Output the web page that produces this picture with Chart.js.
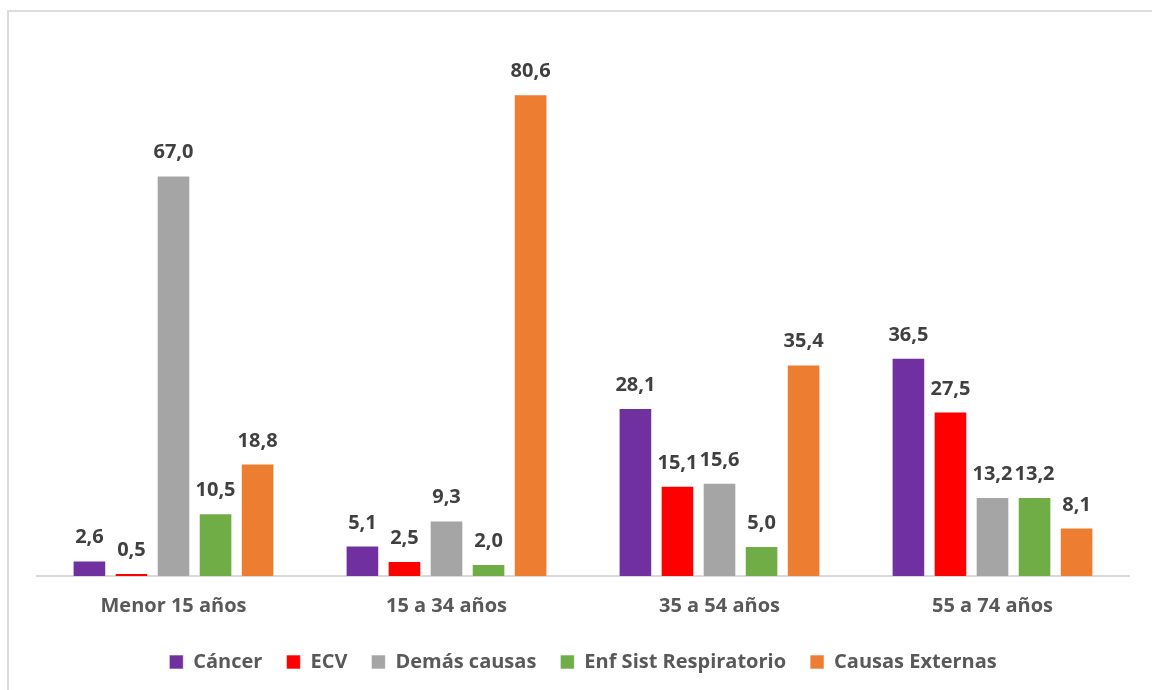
<!DOCTYPE html>
<html>
<head>
<meta charset="utf-8">
<script src="https://cdn.jsdelivr.net/npm/chart.js@4.4.0/dist/chart.umd.min.js"></script>
<style>
    html, body { margin: 0; padding: 0; background: #fff; }
    #wrap { position: relative; width: 1152px; height: 690px; overflow: hidden; }
    #frame { position: absolute; left: 7px; top: 10px; width: 1200px; height: 720px; border: 2px solid #dcdcdc; box-sizing: border-box; }
    #myChart { position: absolute; left: 0; top: 0; }
</style>
</head>
<body>
<div id="wrap">
    <div id="frame"></div>
    <canvas id="myChart" width="1152" height="690"></canvas>
</div>
<script>
const grupos = ['Menor 15 años', '15 a 34 años', '35 a 54 años', '55 a 74 años'];
const cancer = [2.6, 5.1, 28.1, 36.5];
const ecv = [0.5, 2.5, 15.1, 27.5];
const demasCausas = [67.0, 9.3, 15.6, 13.2];
const enfRespiratorio = [10.5, 2.0, 5.0, 13.2];
const causasExternas = [18.8, 80.6, 35.4, 8.1];

const FUENTE = '"Open Sans", Lato, sans-serif';

// etiquetas de valor encima de cada barra, con coma decimal
const etiquetasValor = {
    id: 'etiquetasValor',
    afterDatasetsDraw(chart) {
        const ctx = chart.ctx;
        ctx.save();
        ctx.font = 'bold 20px ' + FUENTE;
        ctx.fillStyle = '#404040';
        ctx.textAlign = 'center';
        ctx.textBaseline = 'alphabetic';
        chart.data.datasets.forEach((ds, i) => {
            const meta = chart.getDatasetMeta(i);
            meta.data.forEach((bar, j) => {
                const txt = ds.data[j].toFixed(1).replace('.', ',');
                ctx.fillText(txt, bar.x, bar.y - 17);
            });
        });
        ctx.restore();
    }
};

function serie(label, data, color) {
    return {
        label: label,
        data: data,
        backgroundColor: color,
        borderColor: 'rgba(255,255,255,0.6)',
        borderWidth: 1,
        categoryPercentage: 0.77,
        barPercentage: 0.8
    };
}

const config = {
    type: 'bar',
    data: {
        labels: grupos,
        datasets: [
            serie('Cáncer', cancer, '#7030A0'),
            serie('ECV', ecv, '#FF0000'),
            serie('Demás causas', demasCausas, '#A5A5A5'),
            serie('Enf Sist Respiratorio', enfRespiratorio, '#70AD47'),
            serie('Causas Externas', causasExternas, '#ED7D31')
        ]
    },
    options: {
        responsive: false,
        animation: false,
        layout: {
            padding: { left: 37, right: 23, top: 38, bottom: 8 }
        },
        scales: {
            y: {
                display: false,
                min: 0,
                max: 90
            },
            x: {
                grid: { display: false },
                border: { color: '#d9d9d9', width: 2 },
                ticks: {
                    color: '#595959',
                    padding: 10,
                    font: { family: FUENTE, size: 20, weight: 'bold' }
                }
            }
        },
        plugins: {
            legend: {
                position: 'bottom',
                labels: {
                    color: '#595959',
                    boxWidth: 14,
                    boxHeight: 14,
                    padding: 24,
                    font: { family: FUENTE, size: 20, weight: 'bold' }
                }
            },
            tooltip: { enabled: false }
        }
    },
    plugins: [etiquetasValor]
};

new Chart(document.querySelector('#myChart'), config);
</script>
</body>
</html>
